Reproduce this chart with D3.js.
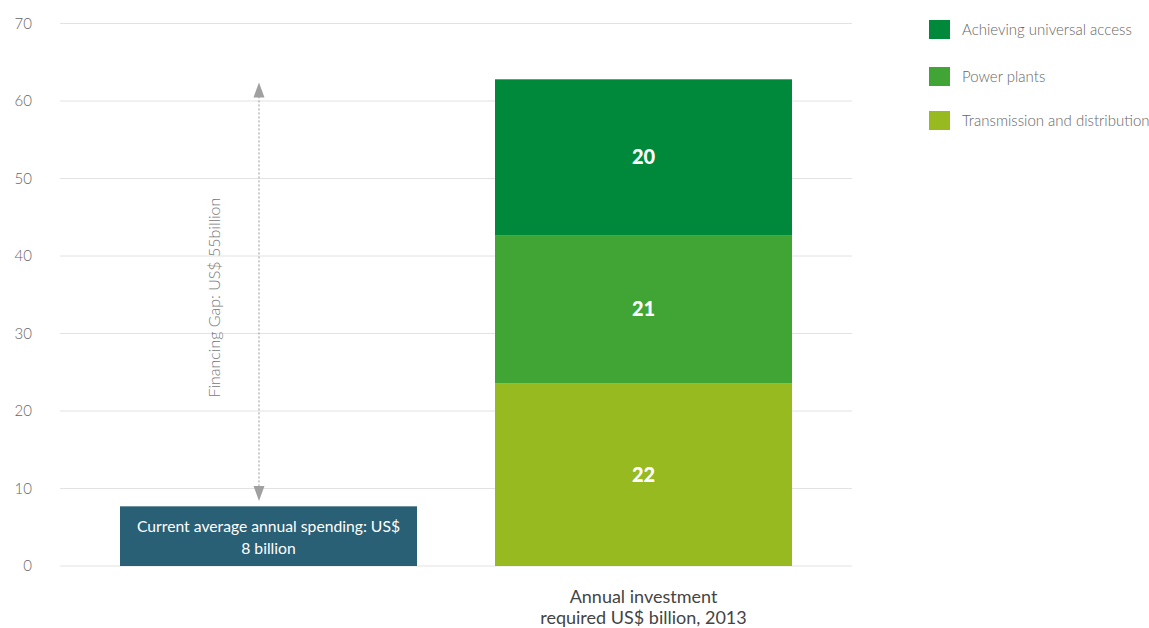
<!DOCTYPE html>
<html><head><meta charset="utf-8">
<script src="https://cdn.jsdelivr.net/npm/d3@7"></script>
<style>
body{margin:0;background:#fff;}
svg{display:block;font-family:Lato,"Open Sans",sans-serif;}
</style></head>
<body><svg id="chart" width="1149" height="628"></svg>
<script>
const categories = ["current", "required"];
const categoryLabels = [[], ["Annual investment", "required US$ billion, 2013"]];
const currentValue = [7.7];
const currentLabel = ["Current average annual spending: US$", "8 billion"];
const seriesNames = ["Transmission and distribution", "Power plants", "Achieving universal access"];
const seriesValues = [23.6, 19.1, 20.1];
const seriesLabels = ["22", "21", "20"];
const seriesColors = ["#97ba21", "#41a535", "#00893a"];
const legendOrder = ["Achieving universal access", "Power plants", "Transmission and distribution"];
const yTicks = [0, 10, 20, 30, 40, 50, 60, 70];
const gapText = "Financing Gap: US$ 55billion";
const gapRange = [8.4, 62.4];

(function () {
const svg = d3.select("#chart");
const x = d3.scaleBand().domain(categories).range([60, 852]).paddingInner(0.208).paddingOuter(0.16);
const y = d3.scaleLinear().domain([0, 70]).range([566, 23.5]);

// gridlines
svg.append("g").selectAll("line").data(yTicks).join("line")
  .attr("x1", 60).attr("x2", 852)
  .attr("y1", d => y(d)).attr("y2", d => y(d))
  .attr("stroke", "#e2e2e2").attr("stroke-width", 1);

// y axis labels
const yAxis = d3.axisLeft(y).tickValues(yTicks).tickSize(0).tickPadding(0);
const ya = svg.append("g").attr("transform", "translate(32,0)").call(yAxis);
ya.select(".domain").remove();
ya.selectAll("text").attr("font-size", 15).attr("fill", "#666").attr("font-weight", 300)
  .attr("font-family", "Lato, sans-serif");

// current spending bar
svg.append("rect")
  .attr("x", x("current")).attr("width", x.bandwidth())
  .attr("y", y(currentValue[0])).attr("height", y(0) - y(currentValue[0]))
  .attr("fill", "#2a6075");
svg.append("text").attr("text-anchor", "middle").attr("fill", "#fff").attr("font-size", 15.7)
  .selectAll("tspan").data(currentLabel).join("tspan")
  .attr("x", x("current") + x.bandwidth() / 2)
  .attr("y", (d, i) => 532 + i * 21.5)
  .text(d => d);

// stacked bar
const stackData = [Object.fromEntries(seriesNames.map((n, i) => [n, seriesValues[i]]))];
const stack = d3.stack().keys(seriesNames)(stackData);
const g = svg.append("g");
stack.forEach((s, i) => {
  const d = s[0];
  g.append("rect")
    .attr("x", x("required")).attr("width", x.bandwidth())
    .attr("y", y(d[1])).attr("height", y(d[0]) - y(d[1]))
    .attr("fill", seriesColors[i]);
  g.append("text")
    .attr("x", x("required") + x.bandwidth() / 2)
    .attr("y", (y(d[0]) + y(d[1])) / 2 + 7)
    .attr("text-anchor", "middle").attr("fill", "#fff")
    .attr("font-size", 20).attr("font-weight", 900)
    .text(seriesLabels[i]);
});

// category labels
svg.append("text").attr("text-anchor", "middle").attr("fill", "#444").attr("font-size", 18)
  .selectAll("tspan").data(categoryLabels[1]).join("tspan")
  .attr("x", x("required") + x.bandwidth() / 2)
  .attr("y", (d, i) => 603 + i * 21)
  .text(d => d);

// financing gap arrow
const ax = x("current") + x.bandwidth() * 0.468;
const yTop = y(gapRange[1]), yBot = y(gapRange[0]);
svg.append("line").attr("x1", ax).attr("x2", ax).attr("y1", yTop + 10).attr("y2", yBot - 10)
  .attr("stroke", "#999").attr("stroke-width", 1).attr("stroke-dasharray", "2,2");
svg.append("path").attr("d", `M${ax},${yTop} L${ax - 5.5},${yTop + 15} L${ax + 5.5},${yTop + 15} Z`).attr("fill", "#a0a0a0");
svg.append("path").attr("d", `M${ax},${yBot} L${ax - 5.5},${yBot - 15} L${ax + 5.5},${yBot - 15} Z`).attr("fill", "#a0a0a0");
svg.append("text")
  .attr("transform", `translate(220,${(yTop + yBot) / 2 + 6}) rotate(-90)`)
  .attr("text-anchor", "middle").attr("fill", "#777").attr("font-size", 16).attr("font-weight", 300)
  .text(gapText);

// legend
const lg = svg.append("g");
const legendY = [20, 67, 111];
legendOrder.forEach((name, i) => {
  const c = seriesColors[seriesNames.indexOf(name)];
  lg.append("rect").attr("x", 929).attr("y", legendY[i]).attr("width", 21).attr("height", 19).attr("fill", c);
  lg.append("text").attr("x", 962).attr("y", legendY[i] + 15).attr("fill", "#666")
    .attr("font-size", 15).attr("font-weight", 300).text(name);
});
})();
</script></body></html>
